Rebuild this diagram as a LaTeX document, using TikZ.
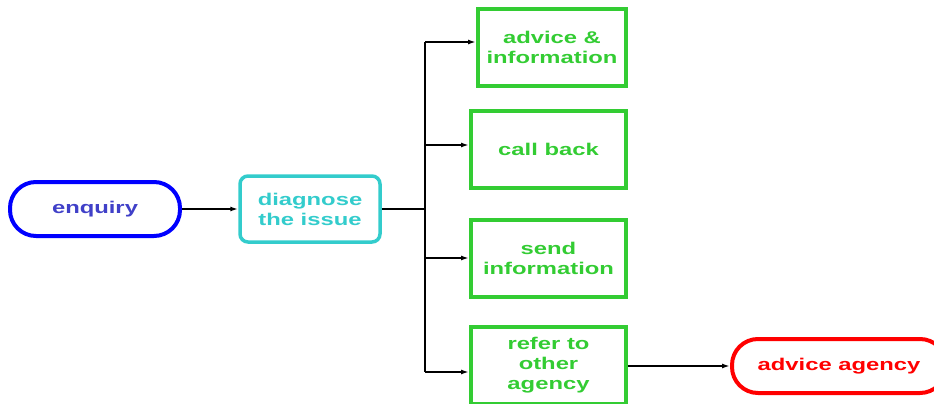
\documentclass[tikz,border=0pt]{standalone}
\usepackage{fontspec}
\setmainfont{Liberation Sans}[FakeStretch=1.4]
\usetikzlibrary{arrows.meta,positioning}

\definecolor{pillblue}{HTML}{0000FF}
\definecolor{textblue}{HTML}{4040C8}
\definecolor{boxcyan}{HTML}{33CCCC}
\definecolor{boxgreen}{HTML}{33CC33}
\definecolor{pillred}{HTML}{FF0000}

\begin{document}
\begin{tikzpicture}[x=1pt,y=-1pt,>={Latex[length=8pt,width=5pt]},
    font=\bfseries\fontsize{17}{20}\selectfont]
  \tikzstyle{pill}=[draw,line width=4pt,rounded corners=26pt,minimum height=54pt,align=center,inner sep=0pt]
  \tikzstyle{stepbox}=[draw,line width=4pt,minimum height=77pt,align=center,inner sep=0pt]
  \tikzstyle{link}=[line width=1.6pt,->]
  \tikzstyle{bus}=[line width=2.6pt]

  \useasboundingbox (0,0) rectangle (934,404);

  \node[pill,draw=pillblue,text=textblue,minimum width=170pt] (enquiry) at (95,209) {enquiry};
  \node[draw=boxcyan,text=boxcyan,line width=3.5pt,rounded corners=8pt,
        minimum width=140pt,minimum height=66pt,align=center,inner sep=0pt]
        (diagnose) at (310,209) {diagnose\\the issue};

  \node[stepbox,draw=boxgreen,text=boxgreen,minimum width=148pt] (advice) at (552,47.5) {advice \&\\information};
  \foreach \name/\y/\text in {callback/149.5/call back, send/258/send\\information,
                              refer/365/refer to\\other\\agency}
    \node[stepbox,draw=boxgreen,text=boxgreen,minimum width=155pt] (\name) at (548.5,\y) {\text};

  \node[pill,draw=pillred,text=pillred,minimum width=214pt] (agency) at (839,366) {advice agency};

  % bus from the diagnosis to the options
  \coordinate (hub) at (425,209);
  \foreach \name/\y in {t-1/42, t-2/145, t-3/258, t-4/372}
    \coordinate (\name) at (425,\y);

  \draw[link] (enquiry) -- (diagnose);
  \draw[bus] (diagnose.east) -- (hub);
  \draw[bus] (t-1) -- (t-4);
  \foreach \tap/\to in {t-1/advice, t-2/callback, t-3/send, t-4/refer}
    \draw[link] (\tap) -- (\tap -| \to.west);
  \draw[link] (refer.east |- agency) -- (agency);
\end{tikzpicture}
\end{document}
